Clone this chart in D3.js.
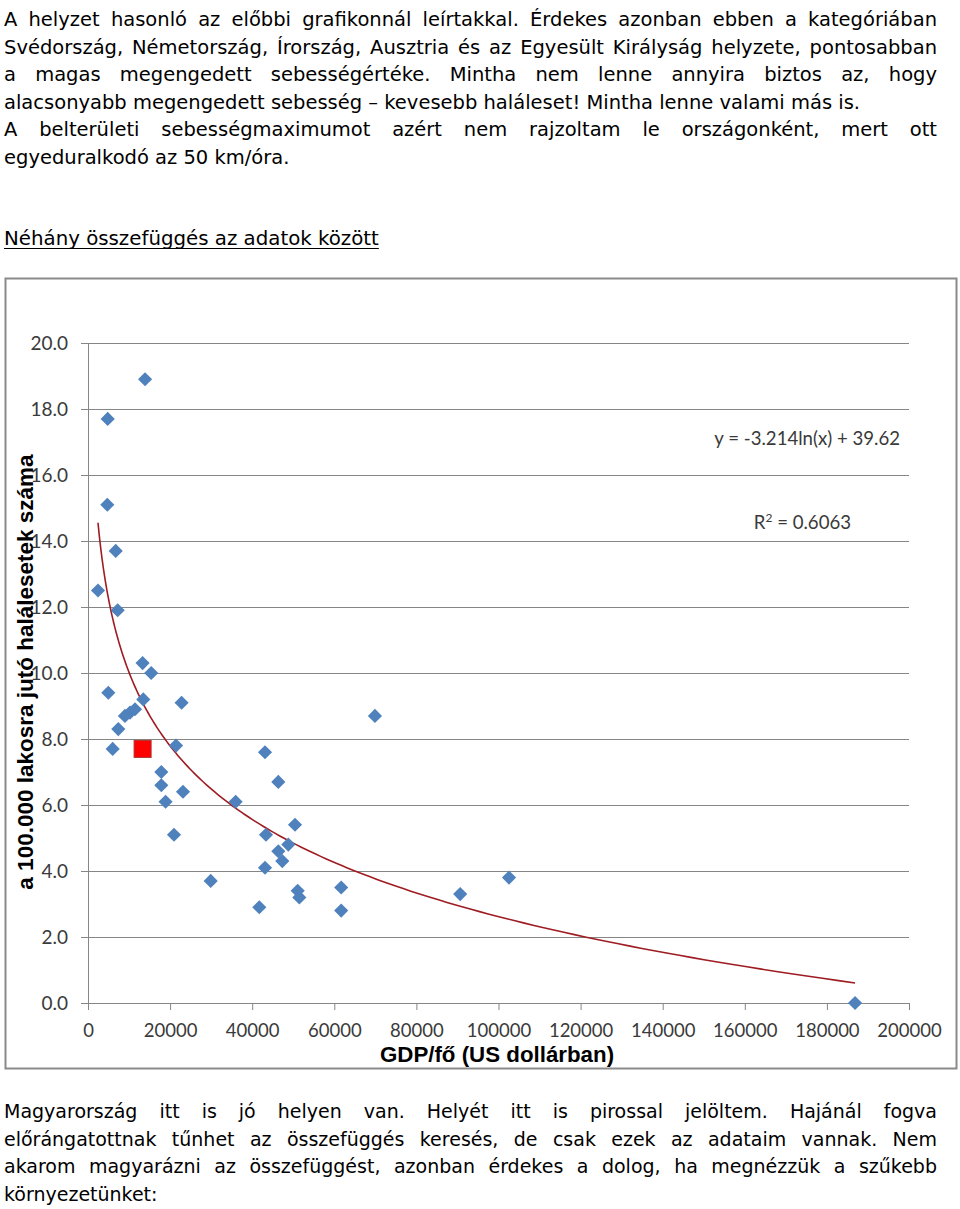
<!DOCTYPE html>
<html>
<head>
<meta charset="utf-8">
<script src="https://cdn.jsdelivr.net/npm/d3@7"></script>
<style>
  html, body { margin: 0; padding: 0; background: #fff; }
  svg { display: block; }
</style>
</head>
<body>
<svg id="page" width="960" height="1209"></svg>
<script>
// ---------------- DATA ----------------
const gdpPerCapita = [2440, 4800, 4700, 6750, 7230, 13900, 13300, 15400, 4950, 13470,
  22800, 11450, 10230, 9000, 7380, 6010, 21440, 43120, 17860, 46360,
  17860, 23140, 18900, 35970, 50430, 20950, 43360, 48800, 46360, 47330,
  43120, 29890, 51080, 51480, 41730, 69900, 61680, 61680, 90670, 102560, 186860];
const deathsPer100k = [12.5, 17.7, 15.1, 13.7, 11.9, 18.9, 10.3, 10.0, 9.4, 9.2,
  9.1, 8.9, 8.8, 8.7, 8.3, 7.7, 7.8, 7.6, 7.0, 6.7,
  6.6, 6.4, 6.1, 6.1, 5.4, 5.1, 5.1, 4.8, 4.6, 4.3,
  4.1, 3.7, 3.4, 3.2, 2.9, 8.7, 3.5, 2.8, 3.3, 3.8, 0.0];
const hungaryGdp = [13300];
const hungaryDeaths = [7.7];
const trendA = -3.214, trendB = 39.62;
const trendLabel = "y = -3.214ln(x) + 39.62";
const r2Label = "0.6063";
const yTicks = [0, 2, 4, 6, 8, 10, 12, 14, 16, 18, 20];
const xTicks = [0, 20000, 40000, 60000, 80000, 100000, 120000, 140000, 160000, 180000, 200000];
const xTitle = "GDP/fő (US dollárban)";
const yTitle = "a 100.000 lakosra jutó halálesetek száma";

const topLines = [
  ["A helyzet hasonló az előbbi grafikonnál leírtakkal. Érdekes azonban ebben a kategóriában", true],
  ["Svédország, Németország, Írország, Ausztria és az Egyesült Királyság helyzete, pontosabban", true],
  ["a magas megengedett sebességértéke. Mintha nem lenne annyira biztos az, hogy", true],
  ["alacsonyabb megengedett sebesség – kevesebb haláleset! Mintha lenne valami más is.", false],
  ["A belterületi sebességmaximumot azért nem rajzoltam le országonként, mert ott", true],
  ["egyeduralkodó az 50 km/óra.", false]
];
const heading = "Néhány összefüggés az adatok között";
const bottomLines = [
  ["Magyarország itt is jó helyen van. Helyét itt is pirossal jelöltem. Hajánál fogva", true],
  ["előrángatottnak tűnhet az összefüggés keresés, de csak ezek az adataim vannak. Nem", true],
  ["akarom magyarázni az összefüggést, azonban érdekes a dolog, ha megnézzük a szűkebb", true],
  ["környezetünket:", false]
];

// ---------------- PAGE ----------------
const svg = d3.select("#page");
svg.append("rect").attr("width", 960).attr("height", 1209).attr("fill", "#fff");

const bodyFont = "'DejaVu Sans', Verdana, sans-serif";

function drawLine(g, text, x, y, width, justify, size) {
  if (!justify) {
    return g.append("text").attr("x", x).attr("y", y)
      .attr("font-family", bodyFont).attr("font-size", size).attr("fill", "#000")
      .text(text);
  }
  const words = text.split(" ");
  const nodes = words.map(w => g.append("text").attr("y", y)
      .attr("font-family", bodyFont).attr("font-size", size).attr("fill", "#000").text(w));
  const widths = nodes.map(n => n.node().getComputedTextLength());
  const total = d3.sum(widths);
  const gap = (width - total) / (words.length - 1);
  let cx = x;
  nodes.forEach((n, i) => { n.attr("x", cx); cx += widths[i] + gap; });
}

const textG = svg.append("g");
topLines.forEach((l, i) => drawLine(textG, l[0], 4, 26 + i * 27.5, 933, l[1], 19.5));

const head = textG.append("text").attr("x", 4).attr("y", 245)
  .attr("font-family", bodyFont).attr("font-size", 19.8).attr("fill", "#000").text(heading);
const hw = head.node().getComputedTextLength();
textG.append("line").attr("x1", 4).attr("x2", 4 + hw).attr("y1", 248.5).attr("y2", 248.5)
  .attr("stroke", "#000").attr("stroke-width", 1.2);

bottomLines.forEach((l, i) => drawLine(textG, l[0], 4, 1118 + i * 27.5, 933, l[1], 19));

// ---------------- CHART ----------------
svg.append("rect").attr("x", 5.5).attr("y", 278.5).attr("width", 951).attr("height", 790)
  .attr("fill", "#fff").attr("stroke", "#8a8a8a").attr("stroke-width", 2);

const x = d3.scaleLinear().domain([0, 200000]).range([88, 909]);
const y = d3.scaleLinear().domain([0, 20]).range([1003, 343]);
const tickFont = "Lato, 'Open Sans', sans-serif";
const axisColor = "#868686";

const chart = svg.append("g");

// gridlines + y axis ticks
const yAxis = d3.axisLeft(y).tickValues(yTicks).tickSize(-(909 - 88)).tickSizeOuter(0)
  .tickFormat(d3.format(".1f")).tickPadding(12);
const yg = chart.append("g").attr("transform", "translate(88,0)").call(yAxis);
yg.select(".domain").attr("stroke", axisColor);
yg.selectAll(".tick line").attr("stroke", axisColor).attr("x1", -7);
yg.selectAll(".tick text").attr("font-family", tickFont).attr("font-size", 19)
  .attr("fill", "#3a3a3a").attr("x", -20);

const xAxis = d3.axisBottom(x).tickValues(xTicks).tickSize(7).tickSizeOuter(0)
  .tickFormat(d3.format("d")).tickPadding(14);
const xg = chart.append("g").attr("transform", "translate(0,1003)").call(xAxis);
xg.select(".domain").attr("stroke", axisColor);
xg.selectAll(".tick line").attr("stroke", axisColor);
xg.selectAll(".tick text").attr("font-family", tickFont).attr("font-size", 18.5)
  .attr("fill", "#3a3a3a");

// axis titles
chart.append("text").attr("x", 497).attr("y", 1062).attr("text-anchor", "middle")
  .attr("font-family", "'Liberation Sans', Arial, sans-serif").attr("font-weight", "bold")
  .attr("font-size", 22.3).attr("fill", "#000").text(xTitle);
chart.append("text").attr("transform", "translate(33,672) rotate(-90)").attr("text-anchor", "middle")
  .attr("font-family", "'Liberation Sans', Arial, sans-serif").attr("font-weight", "bold")
  .attr("font-size", 22.5).attr("fill", "#000").text(yTitle);

// trendline
const xmin = d3.min(gdpPerCapita), xmax = d3.max(gdpPerCapita);
const trendPts = d3.range(0, 201).map(i => {
  const gx = xmin * Math.pow(xmax / xmin, i / 200);
  return [gx, trendA * Math.log(gx) + trendB];
});
chart.append("path").datum(trendPts)
  .attr("d", d3.line().x(d => x(d[0])).y(d => y(d[1])))
  .attr("fill", "none").attr("stroke", "#9e1c22").attr("stroke-width", 1.6);

// points
const pts = gdpPerCapita.map((g, i) => ({ g, v: deathsPer100k[i] }));
const diamond = d3.symbol().type(d3.symbolSquare).size(100);
chart.append("g").selectAll("path").data(pts).join("path")
  .attr("d", diamond)
  .attr("transform", d => `translate(${x(d.g)},${y(d.v)}) rotate(45)`)
  .attr("fill", "#4f81bd");

const hu = hungaryGdp.map((g, i) => ({ g, v: hungaryDeaths[i] }));
chart.append("g").selectAll("rect").data(hu).join("rect")
  .attr("x", d => x(d.g) - 8.5).attr("y", d => y(d.v) - 8.5)
  .attr("width", 17).attr("height", 17)
  .attr("fill", "#ff0000").attr("stroke", "#b03030").attr("stroke-width", 1);

// trendline labels
chart.append("text").attr("x", 900).attr("y", 445).attr("text-anchor", "end")
  .attr("font-family", tickFont).attr("font-size", 18.6).attr("fill", "#3a3a3a").text(trendLabel);
const r2 = chart.append("text").attr("x", 851).attr("y", 529).attr("text-anchor", "end")
  .attr("font-family", tickFont).attr("font-size", 18.6).attr("fill", "#3a3a3a");
r2.append("tspan").text("R");
r2.append("tspan").attr("dy", -7).attr("font-size", 12).text("2");
r2.append("tspan").attr("dy", 7).text(" = " + r2Label);
</script>
</body>
</html>
